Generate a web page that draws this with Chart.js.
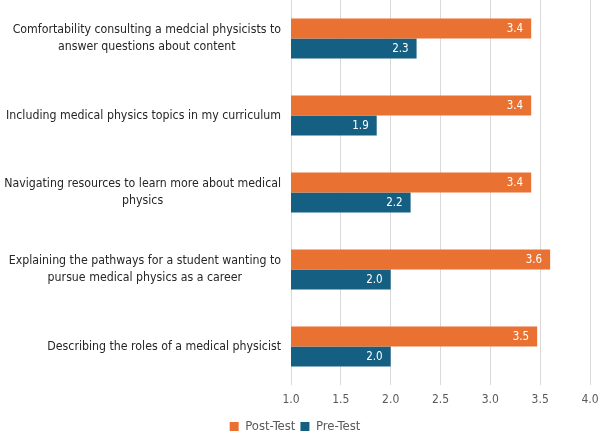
<!DOCTYPE html>
<html>
<head>
<meta charset="utf-8">
<script src="https://cdn.jsdelivr.net/npm/chart.js@4.4.1/dist/chart.umd.min.js"></script>
<style>
  html, body { margin: 0; padding: 0; background: #fff; }
  #wrap { width: 600px; height: 431px; position: relative; }
</style>
</head>
<body>
<div id="wrap"><canvas id="myChart"></canvas></div>
<script>
const ctx = document.getElementById('myChart');

const categories = [
  ['Comfortability consulting a medcial physicists to', 'answer questions about content'],
  ['Including medical physics topics in my curriculum'],
  ['Navigating resources to learn more about medical', 'physics'],
  ['Explaining the pathways for a student wanting to', 'pursue medical physics as a career'],
  ['Describing the roles of a medical physicist']
];
const postTest = [3.41, 3.41, 3.41, 3.6, 3.47];
const preTest = [2.26, 1.86, 2.2, 2.0, 2.0];
const xTicks = [1.0, 1.5, 2.0, 2.5, 3.0, 3.5, 4.0];

const FONT = "'Liberation Sans Narrow', 'Arial Narrow', 'DejaVu Sans Condensed', sans-serif";

// white value labels at the end of each bar
const barLabels = {
  id: 'barLabels',
  afterDatasetsDraw(chart) {
    const c = chart.ctx;
    c.save();
    c.fillStyle = '#ffffff';
    c.font = '11.5px ' + FONT;
    c.textAlign = 'right';
    c.textBaseline = 'middle';
    chart.data.datasets.forEach((ds, i) => {
      chart.getDatasetMeta(i).data.forEach((bar, j) => {
        c.fillText(ds.data[j].toFixed(1), bar.x - 8, bar.y + 1);
      });
    });
    c.restore();
  }
};

// category labels: block right aligned, lines centered inside block
const catLabels = {
  id: 'catLabels',
  afterDraw(chart) {
    const s = chart.scales.y;
    const c = chart.ctx;
    c.save();
    // shrink the font until the longest line is as wide as in the picture
    let size = 14;
    c.font = size + 'px ' + FONT;
    while (size > 8 && c.measureText(categories[0][0]).width > 273) {
      size -= 0.25;
      c.font = size + 'px ' + FONT;
    }
    c.fillStyle = '#262626';
    c.textAlign = 'center';
    c.textBaseline = 'middle';
    const lh = 16.6;
    categories.forEach((lines, i) => {
      const w = Math.max(...lines.map(l => c.measureText(l).width));
      const cx = s.right - 10 - w / 2;
      const y0 = s.getPixelForTick(i) - (lines.length - 1) * lh / 2;
      lines.forEach((l, k) => c.fillText(l, cx, y0 + k * lh));
    });
    c.restore();
  }
};

new Chart(ctx, {
  type: 'bar',
  data: {
    labels: categories,
    datasets: [
      {
        label: 'Post-Test',
        data: postTest,
        backgroundColor: '#E97132',
        categoryPercentage: 0.52,
        barPercentage: 1.0
      },
      {
        label: 'Pre-Test',
        data: preTest,
        backgroundColor: '#156082',
        categoryPercentage: 0.52,
        barPercentage: 1.0
      }
    ]
  },
  options: {
    indexAxis: 'y',
    responsive: true,
    maintainAspectRatio: false,
    animation: false,
    layout: { padding: { top: 0, right: 10, left: 0, bottom: -12 } },
    scales: {
      x: {
        min: 1,
        max: 4,
        afterBuildTicks(axis) {
          axis.ticks = xTicks.map(v => ({ value: v }));
        },
        afterFit(axis) {
          axis.height = 30;
          axis.paddingLeft = 0;
          axis.paddingRight = 0;
        },
        grid: { color: '#d9d9d9', drawTicks: false },
        border: { display: false },
        ticks: {
          padding: 8,
          color: '#595959',
          font: { size: 12, family: FONT },
          callback: v => Number(v).toFixed(1)
        }
      },
      y: {
        afterFit(axis) {
          axis.width = 291;
          axis.paddingTop = 0;
          axis.paddingBottom = 0;
        },
        grid: { display: false },
        border: { display: false },
        ticks: { color: 'rgba(0,0,0,0)', font: { size: 1 } }
      }
    },
    plugins: {
      legend: {
        position: 'bottom',
        labels: {
          boxWidth: 9,
          boxHeight: 9,
          padding: 5,
          color: '#595959',
          font: { size: 13, family: FONT }
        }
      },
      tooltip: { enabled: false }
    }
  },
  plugins: [barLabels, catLabels]
});
</script>
</body>
</html>
